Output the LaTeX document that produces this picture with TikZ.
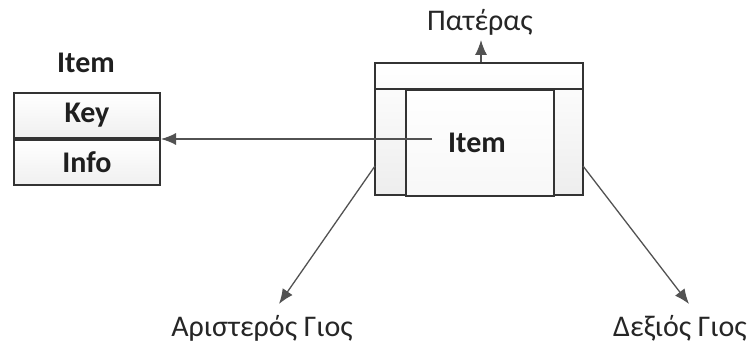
\documentclass[tikz,border=0pt]{standalone}
\usepackage{fontspec}
\setmainfont{Carlito}
\usetikzlibrary{arrows.meta,calc}
\definecolor{ln}{HTML}{333333}
\tikzset{
  px/.style={x=1pt,y=-1pt},
  bold/.style={font=\fontsize{30}{32}\selectfont\bfseries,text=black!88},
  field/.style={draw=ln,line width=2pt,minimum width=146pt,minimum height=45pt,inner sep=0pt,
    top color=white,bottom color=gray!12,bold},
  boxpart/.style={draw=ln,line width=2pt,top color=white,bottom color=gray!14},
  lbl/.style={font=\fontsize{30}{32}\selectfont,text=black!85,inner sep=0pt},
  conn/.style={draw=ln!85,line width=1.3pt,-{Latex[length=15pt,width=12pt]}}
}
\begin{document}
\begin{tikzpicture}[px]
\useasboundingbox (0,0) rectangle (756,345);
% left record
\node[bold,inner sep=0pt] (title) at (86,63) {Item};
\node[field] (key) at (87,115.5) {Key};
\node[field,anchor=north] (info) at (key.south) {Info};
% parent box
\node[boxpart,minimum width=208pt,minimum height=132pt,inner sep=0pt] (parent) at (479,129) {};
\draw[ln,line width=2pt] (375,89) -- (583,89);
\node[boxpart,minimum width=148pt,minimum height=106pt,inner sep=0pt,anchor=north west,top color=white,bottom color=gray!6] (inner) at (405,89) {};
\node[bold,inner sep=0pt] (itemtxt) at (477,143) {Item};
% labels
\node[lbl] (father) at (480,22) {Πατέρας};
\node[lbl] (lson) at (262,328) {Αριστερός Γιος};
\node[lbl] (rson) at (680,328) {Δεξιός Γιος};
% connector ends
\coordinate (pt) at (481,40);
\coordinate (keyend) at (161,139);
\coordinate (lstart) at (375,166);
\coordinate (lend) at (279,304);
\coordinate (rstart) at (583,166);
\coordinate (rend) at (689,304);
\coordinate (itemstart) at (432,139);
% connectors
\draw[conn] (parent.north -| pt) -- (pt);
\draw[conn] (itemstart) -- (keyend);
\draw[conn] (lstart) -- (lend);
\draw[conn] (rstart) -- (rend);
\end{tikzpicture}
\end{document}
